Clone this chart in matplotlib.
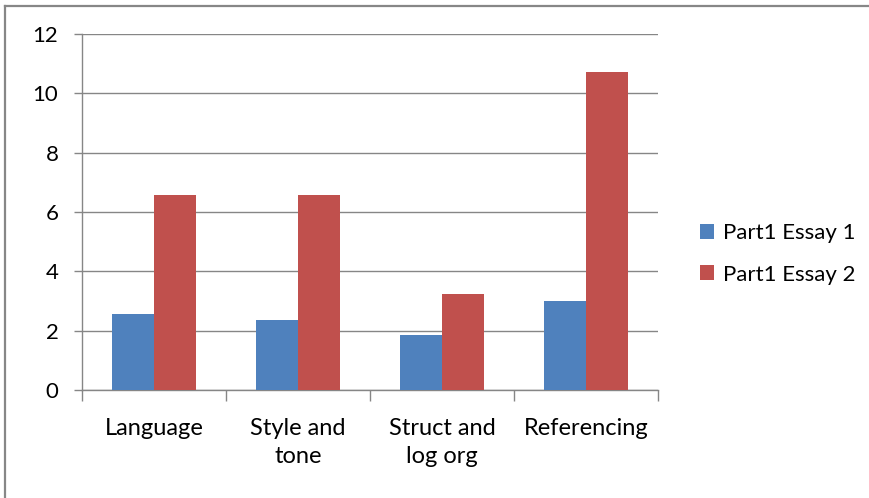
import matplotlib
matplotlib.use("Agg")
import matplotlib.pyplot as plt
from matplotlib.lines import Line2D
import numpy as np

categories = ["Language", "Style and\ntone", "Struct and\nlog org", "Referencing"]
essay1 = [2.57, 2.36, 1.86, 3.0]
essay2 = [6.57, 6.57, 3.24, 10.71]
series_names = ["Part1 Essay 1", "Part1 Essay 2"]
yticks = [0, 2, 4, 6, 8, 10, 12]

blue = "#4F81BD"
red = "#C0504D"
grid_c = "#868686"

plt.rcParams['font.family'] = ['Lato', 'DejaVu Sans']

W, H = 870, 498
fig = plt.figure(figsize=(W / 100, H / 100), dpi=100)
ax = fig.add_axes([82 / W, (H - 390) / H, (658 - 82) / W, (390 - 34) / H])

x = np.arange(len(categories))
bw = 0.29
ax.bar(x - bw / 2, essay1, bw, color=blue, label=series_names[0], zorder=3)
ax.bar(x + bw / 2, essay2, bw, color=red, label=series_names[1], zorder=3)

ax.set_xlim(-0.5, len(categories) - 0.5)
ax.set_ylim(0, 12)
ax.set_yticks(yticks)
ax.set_yticklabels([str(v) for v in yticks], fontsize=16)
ax.yaxis.grid(True, color=grid_c, linewidth=1.0, zorder=0)
ax.set_axisbelow(True)

ax.set_xticks(np.arange(-0.5, len(categories)), minor=False)
ax.set_xticklabels([])
ax.set_xticks(x, minor=True)
ax.set_xticklabels(categories, minor=True, fontsize=17, linespacing=1.4)
ax.tick_params(axis='x', which='major', length=8, color=grid_c, width=1.0, direction='out')
ax.tick_params(axis='x', which='minor', length=0, pad=20)
ax.tick_params(axis='y', length=6, color=grid_c, width=1.0, pad=11, direction='out')

for s in ['top', 'right']:
    ax.spines[s].set_visible(False)
for s in ['left', 'bottom']:
    ax.spines[s].set_color(grid_c)
    ax.spines[s].set_linewidth(1.0)

leg = fig.legend(loc='center left', bbox_to_anchor=(700 / W, 1 - 254 / H),
                 frameon=False, fontsize=16, handlelength=0.65, handleheight=0.65,
                 handletextpad=0.4, labelspacing=0.95, borderpad=0, borderaxespad=0)

# outer chart border (left and top edges)
fig.add_artist(Line2D([5 / W, 5 / W], [0, 1 - 6 / H], color="#878787", linewidth=1.6,
                      transform=fig.transFigure))
fig.add_artist(Line2D([5 / W, 1], [1 - 6 / H, 1 - 6 / H], color="#878787", linewidth=1.6,
                      transform=fig.transFigure))

fig.savefig("out.png", dpi=100)
